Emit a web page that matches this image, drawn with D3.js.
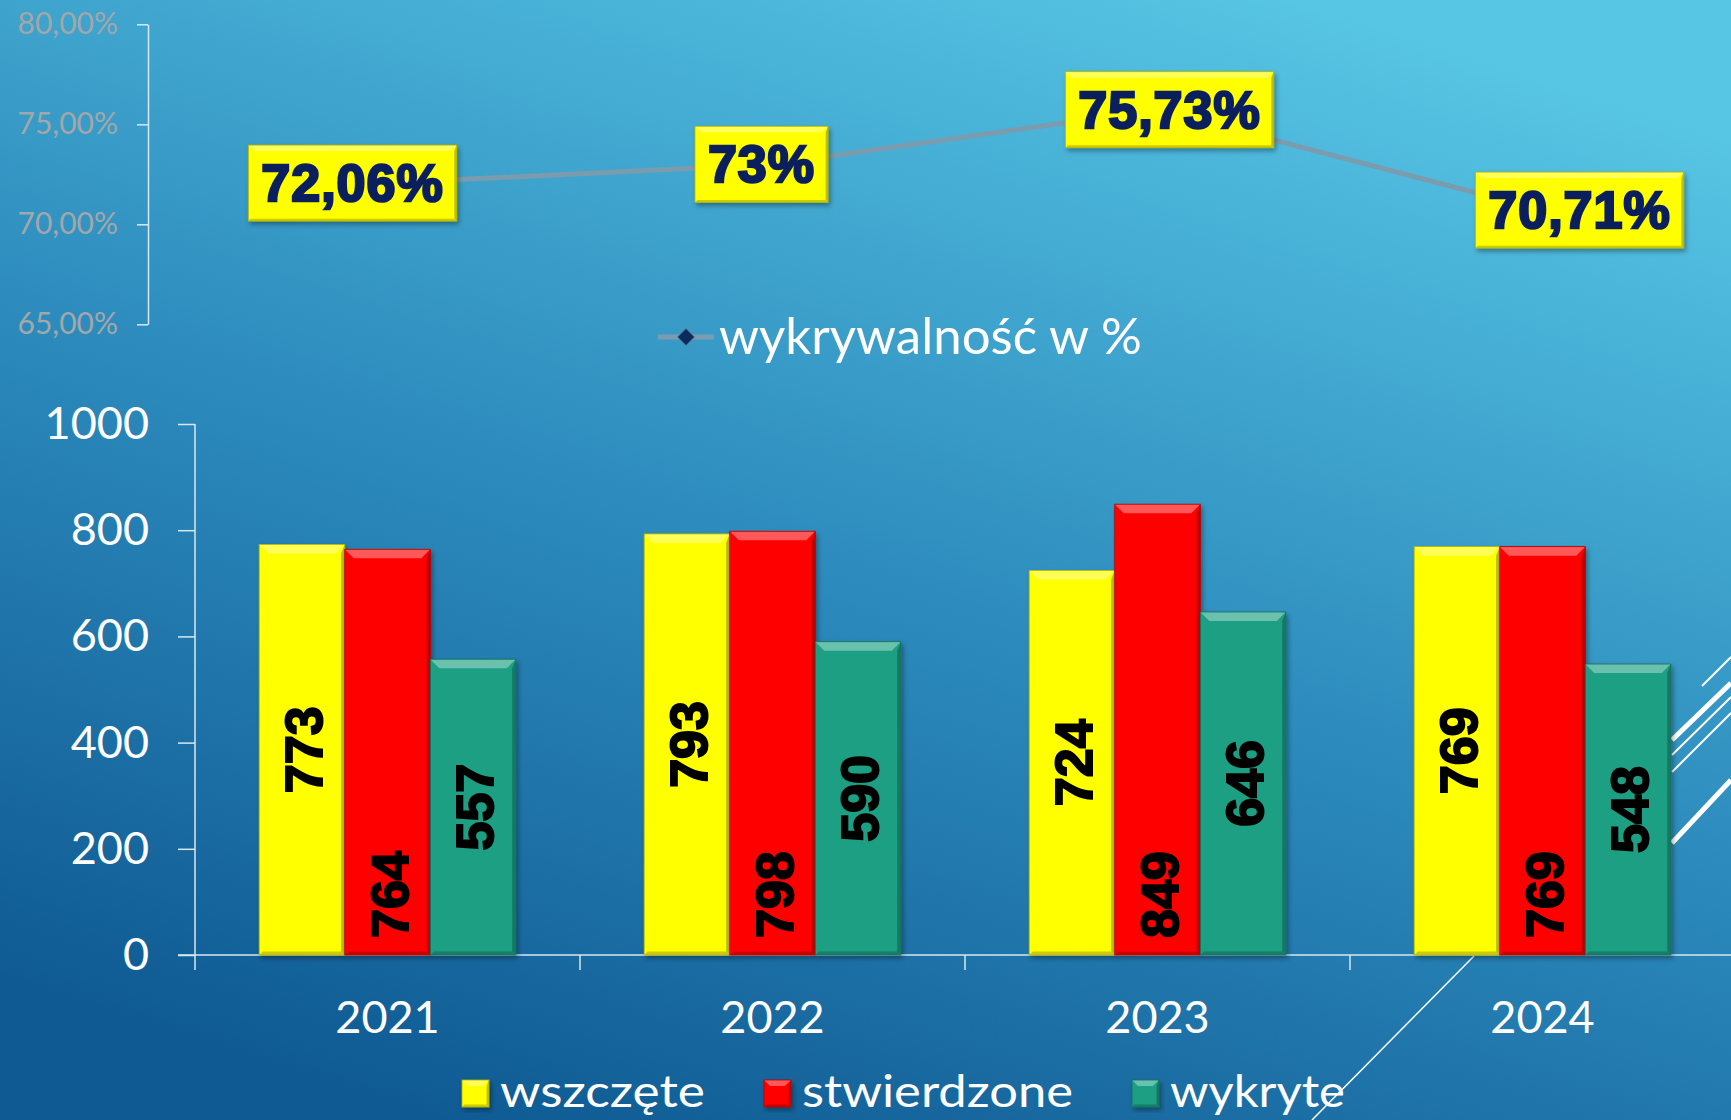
<!DOCTYPE html>
<html>
<head>
<meta charset="utf-8">
<script src="https://cdn.jsdelivr.net/npm/d3@7"></script>
<style>
  html, body { margin: 0; padding: 0; overflow: hidden; }
  svg { display: block; }
</style>
</head>
<body>
<div id="chart"></div>
<script>
// data
const years = ["2021", "2022", "2023", "2024"]
const wszczete = [773, 793, 724, 769]
const stwierdzone = [764, 798, 849, 769]
const wykryte = [557, 590, 646, 548]
const wykrywalnosc = [72.06, 73, 75.73, 70.71]
const rateLabels = ["72,06%", "73%", "75,73%", "70,71%"]
const rateTicks = [65, 70, 75, 80]
const countTicks = [0, 200, 400, 600, 800, 1000]
const seriesNames = ["wszczęte", "stwierdzone", "wykryte"]

// layout
const W = 1731, H = 1120
const font = "Lato, 'Open Sans', sans-serif"
const heavy = "'Liberation Sans', Arial, sans-serif"
const colors = { "wszczęte": "#ffff00", "stwierdzone": "#ff0000", "wykryte": "#1a9f83" }
const labelShift = [-35, -11, 12, 37]
const legendText = [205, 271, 175]

const series = seriesNames.map((name, i) => ({
  name,
  values: [wszczete, stwierdzone, wykryte][i]
}))
const rows = years.map((year, i) => ({
  year,
  bars: series.map((s) => ({ name: s.name, value: s.values[i], year }))
}))

const svg = d3.select("#chart").append("svg").attr("width", W).attr("height", H)
const defs = svg.append("defs")

const bg = defs.append("linearGradient").attr("id", "bg")
  .attr("x1", 0.25).attr("y1", 1).attr("x2", 0.75).attr("y2", 0)
bg.append("stop").attr("offset", 0).attr("stop-color", "#0f5a93")
bg.append("stop").attr("offset", 0.5).attr("stop-color", "#2e8dbe")
bg.append("stop").attr("offset", 1).attr("stop-color", "#57c5e4")

const shadow = defs.append("filter").attr("id", "shadow")
  .attr("x", -0.2).attr("y", -0.2).attr("width", 1.4).attr("height", 1.4)
shadow.append("feDropShadow").attr("dx", 2).attr("dy", 3).attr("stdDeviation", 2.5)
  .attr("flood-color", "#000").attr("flood-opacity", 0.35)

svg.append("rect").attr("width", W).attr("height", H).attr("fill", "url(#bg)")

// decorative theme lines on the right
const deco = svg.append("g").attr("stroke", "#fff").attr("fill", "none")
const decoLines = [
  [[1702, 686], [1731, 657], 2],
  [[1672, 740], [1731, 683], 5],
  [[1672, 755], [1731, 697], 2],
  [[1672, 772], [1731, 713], 2],
  [[1672, 843], [1731, 780], 5],
  [[1312, 1120], [1474, 956], 1.5]
]
decoLines.forEach(([a, b, w]) =>
  deco.append("line").attr("x1", a[0]).attr("y1", a[1]).attr("x2", b[0]).attr("y2", b[1]).attr("stroke-width", w))

function mix(c, t, k) { return d3.interpolateRgb(c, t)(k) }

function bevelBox(g, x, y, w, h, color, b) {
  const box = g.append("g").attr("filter", "url(#shadow)")
  box.append("rect").attr("x", x).attr("y", y).attr("width", w).attr("height", h).attr("fill", color)
  box.append("polygon")
    .attr("points", [[x, y], [x + w, y], [x + w - b, y + b], [x + b, y + b]].join(" "))
    .attr("fill", mix(color, "#ffffff", 0.35))
  box.append("polygon")
    .attr("points", [[x + w, y], [x + w, y + h], [x + w - b * 0.4, y + h - b * 0.4], [x + w - b * 0.4, y + b]].join(" "))
    .attr("fill", mix(color, "#000000", 0.25))
  box.append("polygon")
    .attr("points", [[x, y + h], [x + w, y + h], [x + w - b * 0.4, y + h - b * 0.4], [x + b * 0.4, y + h - b * 0.4]].join(" "))
    .attr("fill", mix(color, "#000000", 0.2))
  box.append("rect").attr("x", x).attr("y", y).attr("width", w).attr("height", h)
    .attr("fill", "none").attr("stroke", mix(color, "#000000", 0.3)).attr("stroke-width", 0.8)
  return box
}

// scales
const x0 = d3.scaleBand().domain(years).range([195, 1735]).padding(0)
const x1 = d3.scaleBand().domain(seriesNames).range([0, x0.bandwidth()]).paddingOuter(0.75).paddingInner(0)
const y = d3.scaleLinear().domain([0, 1000]).range([955, 424])
const yRate = d3.scaleLinear().domain([65, 80]).range([324.3, 24.3])

const axisColor = "#d6e9f2"

// top line chart axis
const rateAxis = svg.append("g").attr("transform", "translate(148,0)")
  .call(d3.axisLeft(yRate).tickValues(rateTicks).tickSize(11).tickSizeOuter(0).tickPadding(19)
    .tickFormat((d) => d3.format(".2f")(d).replace(".", ",") + "%"))
rateAxis.selectAll("path, line").attr("stroke", axisColor).attr("stroke-width", 1.5)
rateAxis.selectAll("text").attr("fill", "#a2a7a9").style("font-family", font).style("font-size", "30px")

// bottom y axis
const yAxis = svg.append("g").attr("transform", "translate(195,0)")
  .call(d3.axisLeft(y).tickValues(countTicks).tickFormat(d3.format("d"))
    .tickSize(17).tickSizeOuter(0).tickPadding(29))
yAxis.select(".domain").remove()
yAxis.append("line").attr("y1", y(1000)).attr("y2", 970)
yAxis.selectAll("line").attr("stroke", axisColor).attr("stroke-width", 1.5)
yAxis.selectAll("text").attr("fill", "#fff").style("font-family", font).style("font-size", "45px")

// bottom x axis
const xAxis = svg.append("g").attr("transform", "translate(0,955)")
  .call(d3.axisBottom(x0).tickSize(0).tickPadding(46))
xAxis.select(".domain").remove()
xAxis.append("line").attr("x1", 178).attr("x2", W).attr("stroke", axisColor).attr("stroke-width", 1.5)
xAxis.selectAll(".sep").data(years.slice(1)).join("line").attr("class", "sep")
  .attr("x1", (d) => x0(d)).attr("x2", (d) => x0(d)).attr("y1", 0).attr("y2", 15)
  .attr("stroke", axisColor).attr("stroke-width", 1.5)
xAxis.selectAll(".tick text").attr("fill", "#fff").style("font-family", font).style("font-size", "45px")

// bars
const barLayer = svg.append("g")
rows.forEach((row) => {
  row.bars.forEach((d) => {
    const bx = x0(d.year) + x1(d.name)
    bevelBox(barLayer, bx, y(d.value), x1.bandwidth(), y(0) - y(d.value), colors[d.name], 9)
  })
})

// bar value labels (rotated)
rows.forEach((row) => {
  row.bars.forEach((d) => {
    const cx = x0(d.year) + x1(d.name) + x1.bandwidth() / 2
    const inside = d.name === "stwierdzone"
    const cy = inside ? y(0) - 17 : (y(d.value) + y(0)) / 2
    barLayer.append("text")
      .attr("transform", `translate(${cx + 2},${cy}) rotate(-90)`)
      .attr("text-anchor", inside ? "start" : "middle")
      .attr("dominant-baseline", "central")
      .attr("fill", "#000").attr("stroke", "#000").attr("stroke-width", 2)
      .style("font-family", heavy).style("font-weight", 900).style("font-size", "52px")
      .text(d.value)
  })
})

// rate line
const pts = years.map((yr, i) => [x0(yr) + x0.bandwidth() / 2, yRate(wykrywalnosc[i])])
svg.append("path").attr("d", d3.line()(pts))
  .attr("fill", "none").attr("stroke", "#7b9cae").attr("stroke-width", 5)

// rate labels
const rateLayer = svg.append("g")
pts.forEach((p, i) => {
  const t = rateLayer.append("text")
    .attr("x", p[0] + labelShift[i]).attr("y", p[1])
    .attr("text-anchor", "middle").attr("dominant-baseline", "central")
    .attr("fill", "#0b1f5e").attr("stroke", "#0b1f5e").attr("stroke-width", 2.5)
    .style("font-family", heavy).style("font-weight", 900).style("font-size", "52px")
    .style("letter-spacing", "1px")
    .text(rateLabels[i])
  const w = t.node().getComputedTextLength() + 26
  const g = rateLayer.insert("g", "text")
  bevelBox(g, p[0] + labelShift[i] - w / 2, p[1] - 38, w, 76, "#ffff00", 6)
})

// line legend
const lineLegend = svg.append("g")
lineLegend.append("line").attr("x1", 658).attr("x2", 714).attr("y1", 337).attr("y2", 337)
  .attr("stroke", "#7b9cae").attr("stroke-width", 5)
lineLegend.append("path").attr("d", d3.symbol(d3.symbolDiamond2, 190)())
  .attr("transform", "translate(686,337)")
  .attr("fill", "#0d2a5e").attr("stroke", "#6f8797").attr("stroke-width", 1)
lineLegend.append("text").attr("x", 719).attr("y", 354)
  .attr("textLength", 423).attr("lengthAdjust", "spacingAndGlyphs")
  .attr("fill", "#fff").style("font-family", font).style("font-size", "50px")
  .text("wykrywalność w %")

// bar legend
const legend = svg.append("g")
const legendX = [462, 764, 1132]
seriesNames.forEach((name, i) => {
  bevelBox(legend, legendX[i], 1080, 27, 27, colors[name], 6)
  legend.append("text").attr("x", legendX[i] + 38).attr("y", 1107)
    .attr("textLength", legendText[i]).attr("lengthAdjust", "spacingAndGlyphs")
    .attr("fill", "#fff").style("font-family", font).style("font-size", "44px")
    .text(name)
})
</script>
</body>
</html>
